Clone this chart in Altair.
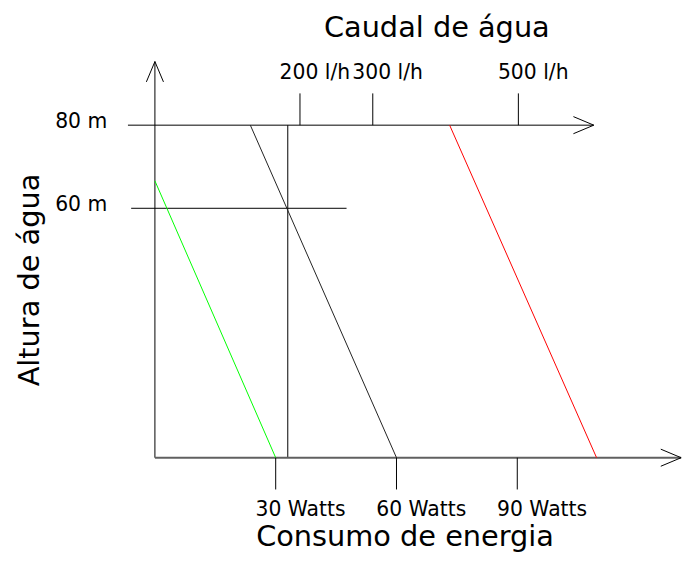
import altair as alt
import pandas as pd

# ---------------- data ----------------
height_marks = [80, 60]
height_labels = ["80 m", "60 m"]

watt_ticks = [30, 60, 90]
watt_labels = ["30 Watts", "60 Watts", "90 Watts"]

flow_ticks = [200, 300, 500]
flow_labels = ["200 l/h", "300 l/h", "500 l/h"]

# pump curves: start (watts, height) -> end (watts, height)
curve_names = ["verde", "preto", "vermelho"]
curve_w_start = [0.0, 23.7, 73.2]
curve_h_start = [66.6, 80.0, 80.0]
curve_w_end = [30.0, 60.0, 109.7]
curve_h_end = [0.0, 0.0, 0.0]
curve_colors = ["#00ff00", "#222222", "#ff0000"]

# reading guides / axes (in chart units)
guide_w = 33.0            # vertical guide line (watts)
line80 = [-6.7, 109.0]    # horizontal 80 m line extent (watts)
line60 = [-5.9, 47.6]     # horizontal 60 m line extent (watts)
y_axis_top = 95.3         # metres
x_axis_end = 130.7        # watts

# ---------------- scales ----------------
W, H = 682, 548
xs = alt.Scale(domain=[-36.49, 131.66], nice=False, zero=False)
fs = alt.Scale(domain=[-201.1, 728.9], nice=False, zero=False)
ys = alt.Scale(domain=[-23.16, 107.70], nice=False, zero=False)

LABEL_FONT = "DejaVu Sans"
LABEL_SIZE = 20.5

def X(f):
    return alt.X(f, type="quantitative", scale=xs, axis=None)

def Y(f):
    return alt.Y(f, type="quantitative", scale=ys, axis=None)

curves = pd.DataFrame({
    "name": curve_names, "w0": curve_w_start, "h0": curve_h_start,
    "w1": curve_w_end, "h1": curve_h_end,
})
curve_layer = alt.Chart(curves).mark_rule(strokeWidth=1).encode(
    x=X("w0"), x2="w1", y=Y("h0"), y2="h1",
    color=alt.Color("name:N", scale=alt.Scale(domain=curve_names, range=curve_colors), legend=None),
)

guides = pd.DataFrame({
    "w0": [0, line80[0], line60[0], guide_w],
    "w1": [0, line80[1], line60[1], guide_w],
    "h0": [0, 80, 60, 0],
    "h1": [y_axis_top, 80, 60, 80],
})
guide_layer = alt.Chart(guides).mark_rule(color="black", strokeWidth=1).encode(
    x=X("w0"), x2="w1", y=Y("h0"), y2="h1"
)

xaxis = pd.DataFrame({"w0": [0], "w1": [x_axis_end], "h": [0]})
xaxis_layer = alt.Chart(xaxis).mark_rule(color="#606060", strokeWidth=2).encode(
    x=X("w0"), x2="w1", y=Y("h"), y2="h"
)

arrow_path = "M-1,-0.42L0,0L-1,0.42"
arrows = pd.DataFrame({
    "w": [0, line80[1], x_axis_end],
    "h": [y_axis_top, 80, 0],
    "ang": [270, 0, 0],
})
arrow_layer = alt.Chart(arrows).mark_point(
    shape=arrow_path, filled=False, size=1681, strokeWidth=1, color="black", opacity=1
).encode(x=X("w"), y=Y("h"), angle=alt.Angle("ang:Q", scale=None))

watts = pd.DataFrame({"w": watt_ticks, "label": watt_labels, "h": [0] * 3})
watt_tick_layer = alt.Chart(watts).mark_rule(color="black", strokeWidth=1, y2Offset=32).encode(
    x=X("w"), y=Y("h"), y2="h"
)
watt_text_layer = alt.Chart(watts).mark_text(
    font=LABEL_FONT, fontSize=LABEL_SIZE, align="center", baseline="alphabetic", dx=25, dy=59, color="black"
).encode(x=X("w"), y=Y("h"), text="label:N")

flows = pd.DataFrame({"f": flow_ticks, "label": flow_labels, "h": [80] * 3})
flow_tick_layer = alt.Chart(flows).mark_rule(color="black", strokeWidth=1, y2Offset=-32).encode(
    x=alt.X("f:Q", scale=fs, axis=None), y=Y("h"), y2="h"
)
flow_text_layer = alt.Chart(flows).mark_text(
    font=LABEL_FONT, fontSize=LABEL_SIZE, align="center", baseline="alphabetic", dx=15, dy=-47, color="black"
).encode(x=alt.X("f:Q", scale=fs, axis=None), y=Y("h"), text="label:N")

heights = pd.DataFrame({"h": height_marks, "label": height_labels})
height_text_layer = alt.Chart(heights).mark_text(
    font=LABEL_FONT, fontSize=LABEL_SIZE, align="right", baseline="alphabetic", dy=3, color="black"
).encode(x=alt.value(100), y=Y("h"), text="label:N")

titles = pd.DataFrame({
    "t": ["Caudal de água", "Consumo de energia", "Altura de água"],
    "px": [432, 400, 31], "py": [27, 540, 272], "ang": [0, 0, 270],
})
title_layer = alt.Chart(titles).mark_text(
    font="DejaVu Sans", fontSize=29, align="center", baseline="alphabetic", color="black"
).encode(
    x=alt.X("px:Q", scale=None), y=alt.Y("py:Q", scale=None),
    angle=alt.Angle("ang:Q", scale=None), text="t:N",
)

chart = alt.layer(
    guide_layer, xaxis_layer, curve_layer, arrow_layer,
    watt_tick_layer, watt_text_layer, flow_tick_layer, flow_text_layer,
    height_text_layer, title_layer,
).resolve_scale(x="independent").properties(
    width=W, height=H, padding=0, autosize=alt.AutoSizeParams(type="none")
).configure_view(stroke=None)

chart.save("out.html", embed_options={"renderer": "svg", "actions": False})
